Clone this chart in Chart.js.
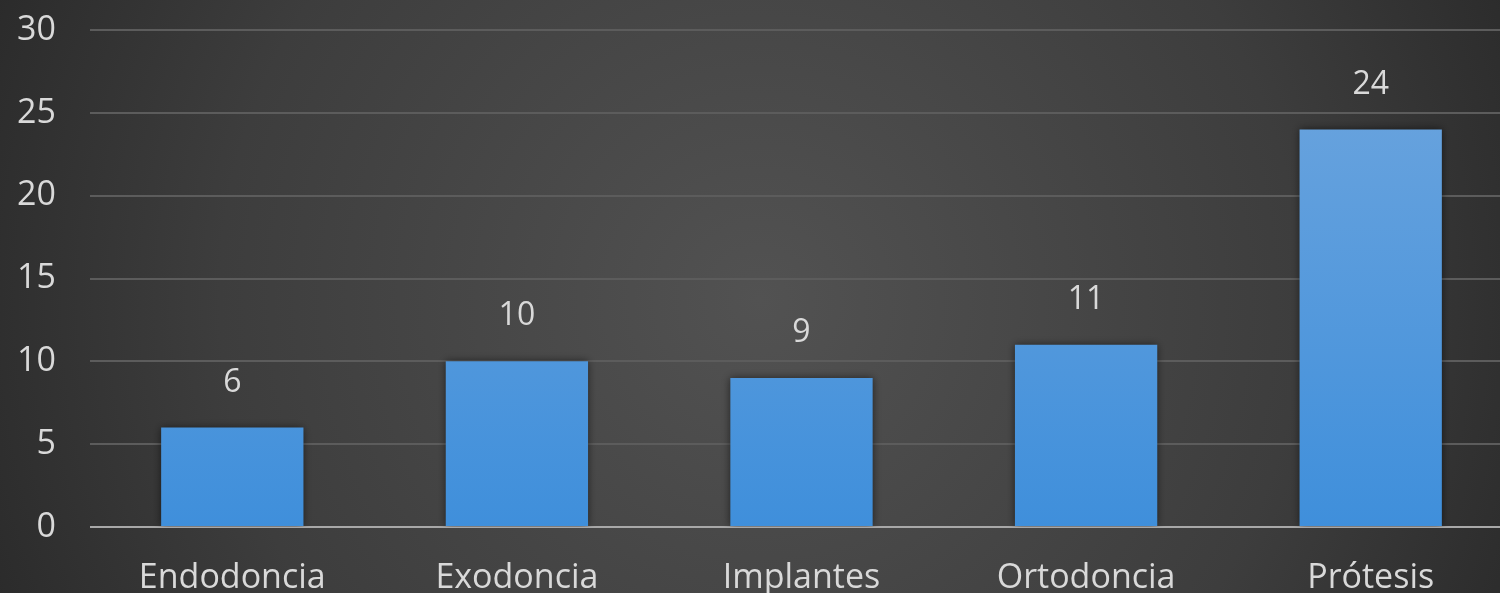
<!DOCTYPE html>
<html>
<head>
<meta charset="utf-8">
<script src="https://cdn.jsdelivr.net/npm/chart.js@4"></script>
<style>
  html, body { margin: 0; padding: 0; overflow: hidden; background: #3a3a3a; }
  #wrap { width: 1514px; height: 593px; }
</style>
</head>
<body>
<div id="wrap"><canvas id="chart"></canvas></div>
<script>
const categories = ["Endodoncia", "Exodoncia", "Implantes", "Ortodoncia", "Prótesis"];
const values = [6, 10, 9, 11, 24];
const yTicks = [0, 5, 10, 15, 20, 25, 30];

const fontFamily = "'Open Sans', 'Noto Sans', sans-serif";

// dark radial background like the office theme
const bgPlugin = {
  id: "bg",
  beforeDraw(chart) {
    const { ctx, width, height } = chart;
    const g = ctx.createRadialGradient(760, 300, 0, 760, 300, 900);
    g.addColorStop(0, "#525252");
    g.addColorStop(0.6, "#3d3d3d");
    g.addColorStop(1, "#262626");
    ctx.save();
    ctx.fillStyle = g;
    ctx.fillRect(0, 0, width, height);
    ctx.restore();
  },
};

// soft shadow round the bars
const shadowPlugin = {
  id: "shadow",
  beforeDatasetsDraw(chart) {
    const ctx = chart.ctx;
    ctx.save();
    ctx.shadowColor = "rgba(0,0,0,0.55)";
    ctx.shadowBlur = 8;
  },
  afterDatasetsDraw(chart) {
    chart.ctx.restore();
  },
};

// value labels above each bar
const labelPlugin = {
  id: "valueLabels",
  afterDatasetsDraw(chart) {
    const ctx = chart.ctx;
    const meta = chart.getDatasetMeta(0);
    ctx.save();
    ctx.fillStyle = "#d9d9d9";
    ctx.font = "32px " + fontFamily;
    ctx.textAlign = "center";
    ctx.textBaseline = "middle";
    meta.data.forEach((bar, i) => {
      ctx.fillText(values[i], bar.x, bar.y - 45);
    });
    ctx.restore();
  },
};

const ctx = document.getElementById("chart");
const chart = new Chart(ctx, {
  type: "bar",
  data: {
    labels: categories,
    datasets: [
      {
        data: values,
        backgroundColor(context) {
          const area = context.chart.chartArea;
          if (!area) return "#5b9bd5";
          const g = context.chart.ctx.createLinearGradient(0, area.top, 0, area.bottom);
          g.addColorStop(0, "#6fa6de");
          g.addColorStop(1, "#3f8fdb");
          return g;
        },
        barPercentage: 0.5,
        categoryPercentage: 1,
      },
    ],
  },
  options: {
    responsive: true,
    maintainAspectRatio: false,
    animation: false,
    layout: { padding: { top: 30, right: 1, left: 0, bottom: 0 } },
    plugins: {
      legend: { display: false },
      tooltip: { enabled: false },
    },
    scales: {
      x: {
        grid: { display: false },
        border: { display: false },
        ticks: {
          color: "#d9d9d9",
          font: { family: fontFamily, size: 34 },
          padding: 23,
        },
        afterFit(scale) {
          scale.height = 66;
          scale.paddingLeft = 0;
          scale.paddingRight = 0;
        },
      },
      y: {
        min: 0,
        max: 30,
        afterBuildTicks(scale) { scale.ticks = yTicks.map((v) => ({ value: v })); },
        grid: {
          color: (c) => (c.tick && c.tick.value === 0 ? "#a8a8a8" : "#5c5c5c"),
          lineWidth: 2,
          drawTicks: false,
        },
        border: { display: false },
        ticks: {
          color: "#d9d9d9",
          font: { family: fontFamily, size: 34 },
          padding: 34,
        },
        afterFit(scale) {
          scale.width = 90;
          scale.paddingTop = 0;
          scale.paddingBottom = 0;
        },
      },
    },
  },
  plugins: [bgPlugin, shadowPlugin, labelPlugin],
});
</script>
</body>
</html>
